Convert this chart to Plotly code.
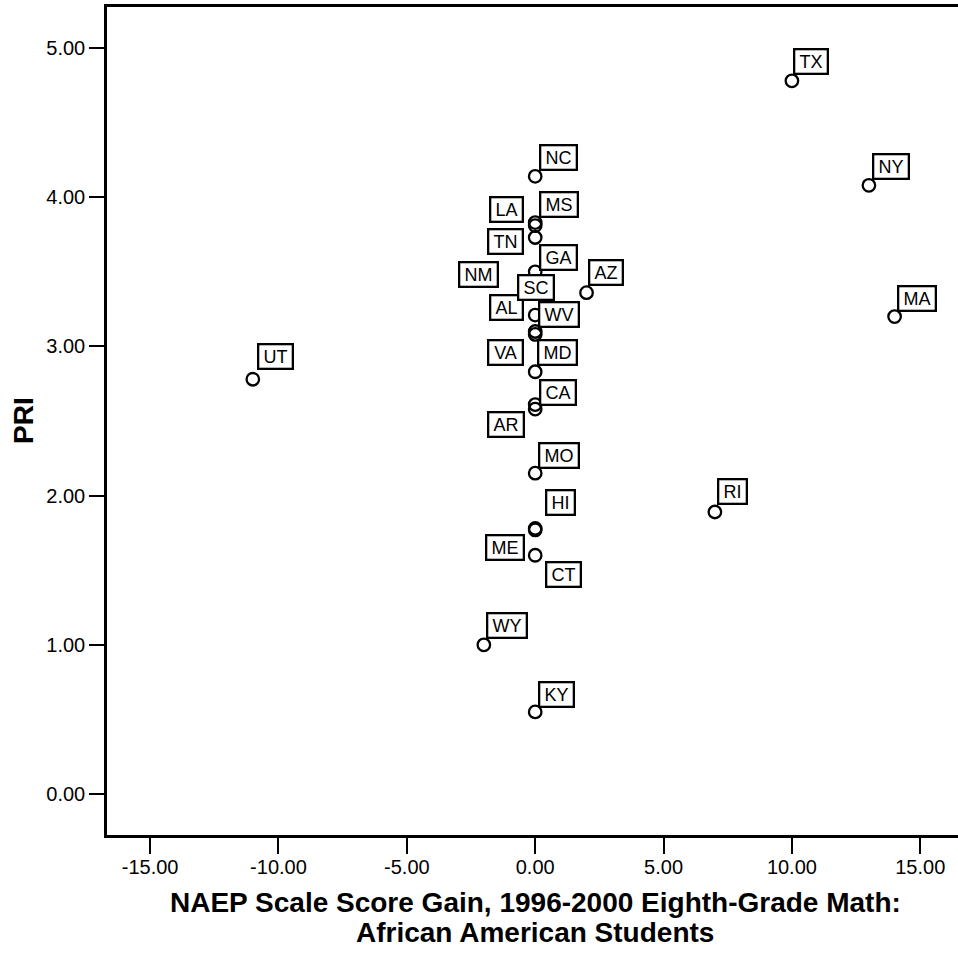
import plotly.graph_objects as go

# ---- data ----
states = ["TX", "NY", "MA", "RI", "UT", "WY", "KY", "NC", "MS", "LA", "TN", "GA",
          "NM", "AZ", "AL", "SC", "WV", "VA", "MD", "CA", "AR", "MO", "HI", "ME", "CT"]
naep_gain = [10, 13, 14, 7, -11, -2, 0, 0, 0, 0, 0, 0,
             0, 2, 0, 0, 0, 0, 0, 0, 0, 0, 0, 0, 0]
pri = [4.78, 4.08, 3.20, 1.89, 2.78, 1.00, 0.55, 4.14, 3.83, 3.81, 3.73, 3.50,
       3.42, 3.36, 3.21, 3.38, 3.08, 3.10, 2.83, 2.61, 2.58, 2.15, 1.78, 1.77, 1.60]

x_ticks = [-15, -10, -5, 0, 5, 10, 15]
x_tick_labels = ["-15.00", "-10.00", "-5.00", "0.00", "5.00", "10.00", "15.00"]
y_ticks = [0, 1, 2, 3, 4, 5]
y_tick_labels = ["0.00", "1.00", "2.00", "3.00", "4.00", "5.00"]
x_title_lines = ["NAEP Scale Score Gain, 1996-2000 Eighth-Grade Math:",
                 "African American Students"]
y_title = "PRI"

# ---- label placement (pixel offsets of label boxes relative to points) ----
label_place = {
    "TX": ("left", 1, 5.5), "NY": ("left", 2.7, 5), "MA": ("left", 2, 4.6),
    "RI": ("left", 1.7, 6.7), "UT": ("left", 3.7, 9), "WY": ("left", 1.7, 5.7),
    "KY": ("left", 2.3, 4.4), "NC": ("left", 3.3, 5), "MS": ("left", 3.3, 4.6),
    "LA": ("right", -11, 2.6), "TN": ("right", -11, -17.2), "GA": ("left", 3.3, 0.4),
    "NM": ("right", -36.7, -4.3), "AZ": ("left", 1.4, 6.3), "AL": ("right", -11.7, -6.3),
    "SC": ("left", -18.3, -11.7), "WV": ("left", 2.3, 6.5), "VA": ("right", -11, -34.9),
    "MD": ("left", 2, 5.4), "CA": ("left", 3.3, -1.8), "AR": ("right", -10, -28.9),
    "MO": ("left", 2.3, 4.2), "HI": ("left", 10, 12), "ME": ("right", -10, -31.5),
    "CT": ("left", 10, -32.7),
}

char_w = {"A": 667, "B": 667, "C": 722, "D": 722, "E": 667, "F": 611, "G": 778,
          "H": 722, "I": 278, "J": 500, "K": 667, "L": 556, "M": 833, "N": 722,
          "O": 778, "P": 667, "Q": 778, "R": 722, "S": 667, "T": 611, "U": 722,
          "V": 667, "W": 944, "X": 667, "Y": 667, "Z": 611}

FONT = "Liberation Sans, Arial, sans-serif"
LABEL_SIZE = 18

fig = go.Figure()
fig.add_trace(go.Scatter(
    x=naep_gain, y=pri, mode="markers", text=states,
    marker=dict(symbol="circle-open", size=12.5, color="black",
                line=dict(width=2.3, color="black")),
    hoverinfo="text", showlegend=False,
))

annotations = []
for s, xv, yv in zip(states, naep_gain, pri):
    anchor, dx, dy = label_place[s]
    tw = sum(char_w.get(c, 667) for c in s) / 1000 * LABEL_SIZE
    annotations.append(dict(
        x=xv, y=yv, xref="x", yref="y", text=s, showarrow=False,
        xanchor=anchor, yanchor="bottom", xshift=dx, yshift=dy,
        font=dict(family=FONT, size=LABEL_SIZE, color="black"),
        bgcolor="white", bordercolor="black", borderwidth=2.3, borderpad=1,
        width=tw + 6.5, height=20.5, align="center",
    ))

# axis titles
annotations.append(dict(
    x=0.5, y=0, xref="paper", yref="paper", text="<b>%s</b>" % x_title_lines[0],
    showarrow=False, xanchor="center", yanchor="middle", xshift=2.5, yshift=-67,
    font=dict(family=FONT, size=28, color="black")))
annotations.append(dict(
    x=0.5, y=0, xref="paper", yref="paper", text="<b>%s</b>" % x_title_lines[1],
    showarrow=False, xanchor="center", yanchor="middle", xshift=2.5, yshift=-97,
    font=dict(family=FONT, size=28, color="black")))
annotations.append(dict(
    x=0, y=0.5, xref="paper", yref="paper", text="<b>%s</b>" % y_title,
    showarrow=False, xanchor="center", yanchor="middle", xshift=-84, textangle=-90,
    font=dict(family=FONT, size=28, color="black")))

fig.update_layout(
    width=958, height=956,
    margin=dict(l=107, r=0, t=7, b=121, pad=0),
    paper_bgcolor="white", plot_bgcolor="white",
    font=dict(family=FONT, color="black"),
    annotations=annotations,
    xaxis=dict(
        range=[-16.68, 16.47], tickvals=x_ticks, ticktext=x_tick_labels,
        showgrid=False, zeroline=False, showline=True, linecolor="black",
        linewidth=2.5, mirror=True, ticks="outside", ticklen=16, tickwidth=2,
        tickcolor="black", tickfont=dict(family=FONT, size=20, color="black"),
        ticklabelstandoff=-4,
    ),
    yaxis=dict(
        range=[-0.275, 5.275], tickvals=y_ticks, ticktext=y_tick_labels,
        showgrid=False, zeroline=False, showline=True, linecolor="black",
        linewidth=2.5, ticks="outside", ticklen=15, tickwidth=2,
        tickcolor="black", tickfont=dict(family=FONT, size=20, color="black"),
    ),
)

fig.write_html("out.html", config={"displayModeBar": False},
               post_script="document.body.style.margin='0px';")
